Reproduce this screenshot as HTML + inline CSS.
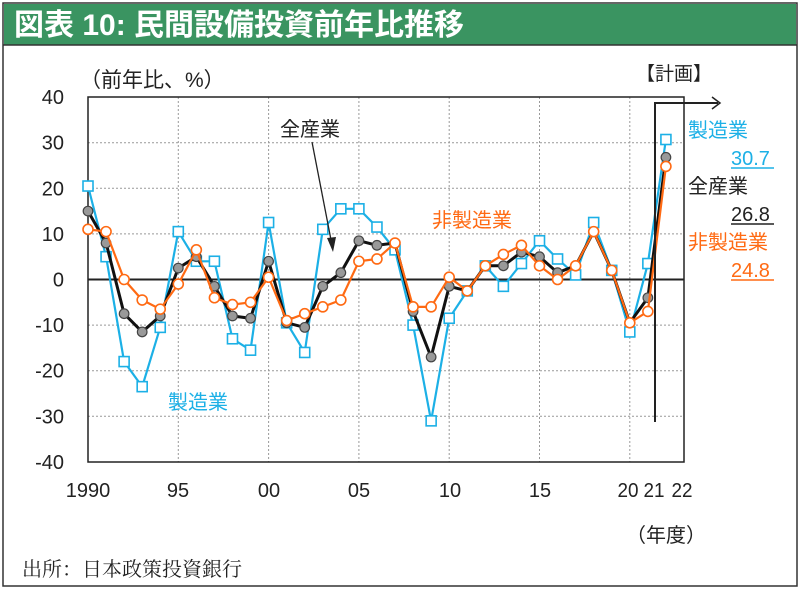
<!DOCTYPE html>
<html><head><meta charset="utf-8"><style>
body{margin:0;background:#fff;}
svg{display:block;font-family:"Liberation Sans","Noto Sans CJK JP",sans-serif;}
</style></head><body>
<svg id="c" width="800" height="590" xmlns="http://www.w3.org/2000/svg">
<rect x="3" y="3" width="794" height="583" fill="#fff" stroke="#333" stroke-width="1.5"/>
<rect x="4" y="4" width="792" height="41" fill="#3a9461"/>
<line x1="3" y1="45" x2="797" y2="45" stroke="#333" stroke-width="1.5"/>
<text x="14" y="35" font-size="30" font-weight="bold" fill="#fff">図表 10: 民間設備投資前年比推移</text>
<g id="g"></g>
<text x="80" y="87" font-size="21" fill="#222">（前年比、%）</text>
<text x="636" y="80" font-size="19" fill="#222">【計画】</text>
<text x="280" y="136" font-size="20" fill="#222">全産業</text>
<line x1="312" y1="142" x2="332" y2="245" stroke="#222" stroke-width="1.3"/>
<polygon points="333,252 327,238 336,237" fill="#222"/>
<text x="432" y="227" font-size="20" fill="#ff6a13">非製造業</text>
<text x="168" y="409" font-size="20" fill="#1cb0e6">製造業</text>
<text x="688" y="137" font-size="20" fill="#1cb0e6">製造業</text>
<text x="731" y="165" font-size="20" fill="#1cb0e6">30.7</text>
<line x1="731" y1="168" x2="774" y2="168" stroke="#1cb0e6" stroke-width="1.5"/>
<text x="688" y="193" font-size="20" fill="#222">全産業</text>
<text x="731" y="221" font-size="20" fill="#222">26.8</text>
<line x1="731" y1="224" x2="774" y2="224" stroke="#222" stroke-width="1.5"/>
<text x="688" y="249" font-size="20" fill="#ff6a13">非製造業</text>
<text x="731" y="277" font-size="20" fill="#ff6a13">24.8</text>
<line x1="731" y1="280" x2="774" y2="280" stroke="#ff6a13" stroke-width="1.5"/>
<text x="626" y="542" font-size="20" fill="#222">（年度）</text>
<text x="22" y="576" font-size="20" fill="#222" font-family="'Noto Serif CJK SC',serif">出所：日本政策投資銀行</text>
</svg>
<script>
const g=document.getElementById('g');let s='';
const X0=88,DX=18.06,Y0=279.5,SY=4.56,L=88,R=684,T=97,B=462;
const y=v=>Y0-v*SY,x=i=>X0+i*DX;
for(let v=-30;v<=30;v+=10){if(v)s+=`<line x1="${L}" y1="${y(v)}" x2="${R}" y2="${y(v)}" stroke="#999" stroke-dasharray="2,2"/>`;}
for(let i=5;i<=30;i+=5)s+=`<line x1="${x(i)}" y1="${T}" x2="${x(i)}" y2="${B}" stroke="#999" stroke-dasharray="2,2"/>`;
s+=`<rect x="${L}" y="${T}" width="${R-L}" height="${B-T}" fill="none" stroke="#222" stroke-width="1.5"/>`;
s+=`<line x1="${L}" y1="${Y0}" x2="${R}" y2="${Y0}" stroke="#222" stroke-width="2"/>`;
for(let v=-40;v<=40;v+=10)s+=`<text x="${L-24}" y="${y(v)+7}" font-size="20" text-anchor="end" fill="#222">${v}</text>`;
const xl=[[88,'1990'],[178,'95'],[269,'00'],[359,'05'],[450,'10'],[540,'15'],[628,'20'],[654,'21'],[682,'22']];
xl.forEach(a=>s+=`<text x="${a[0]}" y="497" font-size="20" text-anchor="middle" fill="#222" ${a[1].length==2&&+a[1]>=20&&+a[1]<=22?'textLength="21" lengthAdjust="spacingAndGlyphs"':''}>${a[1]}</text>`);
const M=[20.5,5,-18,-23.5,-10.5,10.5,4,4,-13,-15.5,12.5,-9.5,-16,11,15.5,15.5,11.5,6.5,-10,-31,-8.5,-2.5,3,-1.5,3.5,8.5,4.5,1,12.5,2,-11.5,3.5,30.7];
const A=[15,8,-7.5,-11.5,-8,2.5,5,-1.5,-8,-8.5,4,-9.5,-10.5,-1.5,1.5,8.5,7.5,8,-7,-17,-1.5,-2.5,3,3,6,5,1.5,3,10.5,2,-9.5,-4,26.8];
const N=[11,10.5,0,-4.5,-6.5,-1,6.5,-4,-5.5,-5,0.5,-9,-7.5,-6,-4.5,4,4.5,8,-6,-6,0.5,-2.5,3,5.5,7.5,3,0,3,10.5,2,-9.5,-7,24.8];
const pts=d=>d.map((v,i)=>x(i).toFixed(1)+','+y(v).toFixed(1)).join(' ');
s+=`<polyline points="${pts(M)}" fill="none" stroke="#1cb0e6" stroke-width="2.2"/>`;
M.forEach((v,i)=>s+=`<rect x="${x(i)-5}" y="${y(v)-5}" width="10" height="10" fill="#fff" stroke="#1cb0e6" stroke-width="1.6"/>`);
s+=`<polyline points="${pts(A)}" fill="none" stroke="#111" stroke-width="3"/>`;
A.forEach((v,i)=>s+=`<circle cx="${x(i)}" cy="${y(v)}" r="4.8" fill="#999" stroke="#444" stroke-width="1.2"/>`);
s+=`<polyline points="${pts(N)}" fill="none" stroke="#ff6a13" stroke-width="2.2"/>`;
N.forEach((v,i)=>s+=`<circle cx="${x(i)}" cy="${y(v)}" r="5" fill="#fff" stroke="#ff6a13" stroke-width="1.6"/>`);
s+=`<polyline points="655,422 655,103 718,103" fill="none" stroke="#222" stroke-width="2"/><polyline points="712,97 720,103 712,109" fill="none" stroke="#222" stroke-width="1.5"/>`;
g.innerHTML=s;
</script>
</body></html>
